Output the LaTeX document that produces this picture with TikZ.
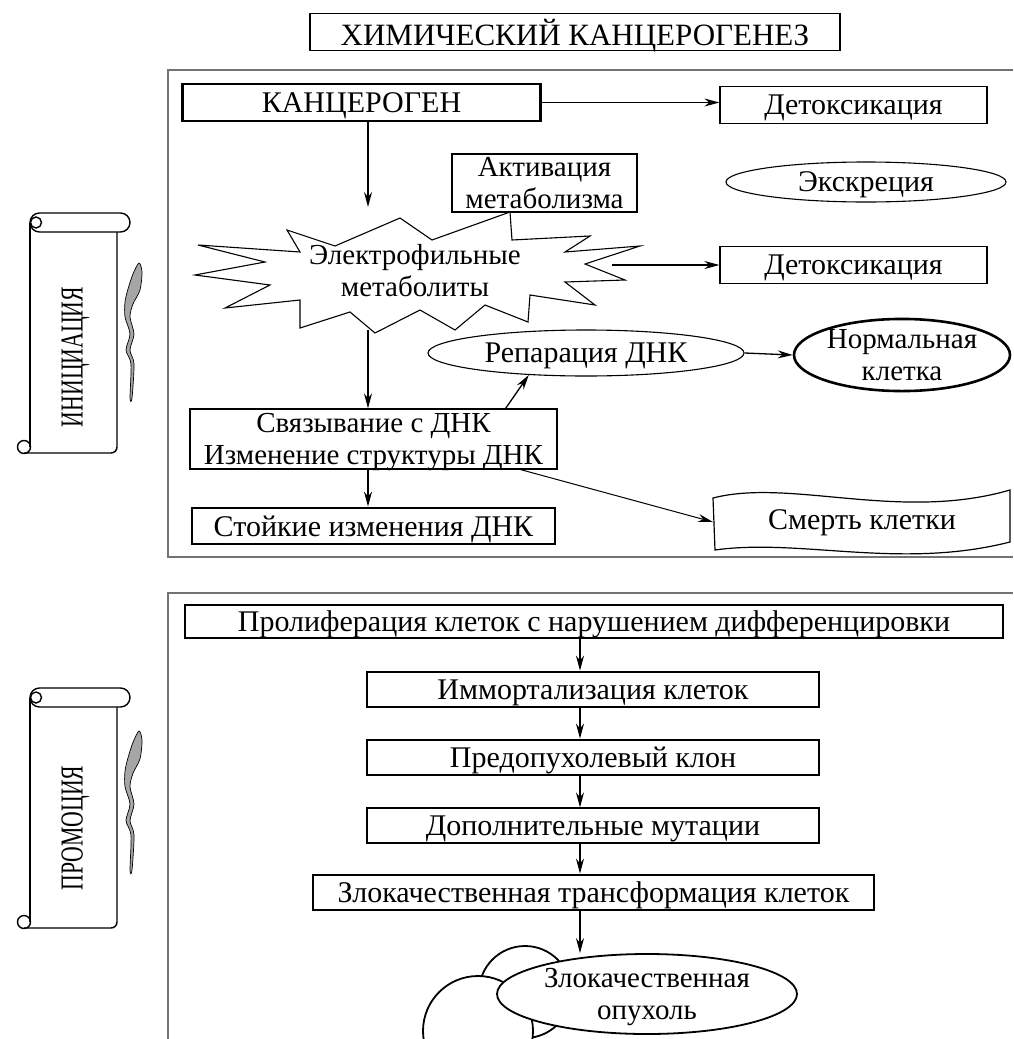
\documentclass[tikz,border=0pt]{standalone}
\usepackage{fontspec}
\setmainfont{Liberation Serif}
\usetikzlibrary{arrows.meta,shapes.geometric,calc}

\tikzset{
  every node/.style={font=\fontsize{30}{27}\selectfont, align=center, inner sep=0pt, text depth=0pt},
  twol/.style={font=\fontsize{29}{32}\selectfont},
  box/.style={draw, line width=1.2pt, rectangle},
  tbox/.style={draw, line width=2.8pt, rectangle},
  oval/.style={draw, ellipse, line width=1.1pt},
  frame/.style={draw=black!55, line width=2.4pt},
  arr/.style={-{Stealth[length=15pt,width=8pt]}, line width=1.3pt},
  scrl/.style={line width=1.4pt},
  stage/.style={rotate=90, font=\fontsize{32}{32}\selectfont},
  quill/.style={fill=black!35, line width=0.7pt},
}

\newcommand\myscroll[2]{%
  \draw[scrl, rounded corners=6] (117,{#1+19}) -- (117,#2) -- (24,#2);
  \draw[scrl] (30,{#1+10}) -- (30,{#2-6});
  \draw[scrl, rounded corners=9.5, fill=white] (30,#1) rectangle (130,{#1+19});
  \draw[scrl] (36,{#1+9.5}) circle (5.5);
  \draw[scrl] (24,{#2-6}) circle (6.5);
}
\newcommand\myfeather[3]{%
  \begin{scope}[shift={(#1,#2)}, yscale=#3]
    \draw[quill] plot[smooth cycle, tension=0.5] coordinates {(19,1) (22,10) (20,28) (13,42) (10,55)
      (14,72) (10,88) (14,102) (12,136) (10,136) (11,102) (6,88) (10,72) (5,55) (5,40) (8,27) (13,12)};
  \end{scope}
}

\begin{document}
\begin{tikzpicture}[x=1pt,y=-1pt]
\useasboundingbox (0,0) rectangle (1013,1039);

% title
\node[box, font=\fontsize{31}{31}\selectfont, minimum width=530, minimum height=37] (title) at (575,32) {ХИМИЧЕСКИЙ КАНЦЕРОГЕНЕЗ};

% frames
\draw[frame] (1013,70) -- (168,70) -- (168,557) -- (1013,557);
\draw[frame] (1013,593) -- (168,593) -- (168,1039);

% scrolls
\myscroll{213}{453}
\node[stage] (ini) at (72,357) {\scalebox{0.68}[1]{ИНИЦИАЦИЯ}};
\myfeather{120}{262}{1}
\myscroll{688}{928}
\node[stage] (pro) at (72,828) {\scalebox{0.68}[1]{ПРОМОЦИЯ}};
\myfeather{120}{730}{1.03}

% ---------- initiation ----------
\node[tbox, minimum width=358, minimum height=37] (kanc) at (361.5,102.5) {КАНЦЕРОГЕН};
\node[box, minimum width=267, minimum height=37] (det1) at (853.5,105) {Детоксикация};
\node[box, twol, minimum width=185, minimum height=58] (akt) at (544.5,183) {Активация\\метаболизма};
\node[oval, minimum width=280, minimum height=40] (exk) at (866,182) {Экскреция};

% starburst
\draw[line width=1.1pt, fill=white] (287,230) -- (335,246) -- (400,218) -- (432,240) -- (510,212)
  -- (512,240) -- (590,236) -- (565,252) -- (640,246) -- (585,264) -- (625,280) -- (565,282)
  -- (595,305) -- (530,295) -- (528,322) -- (485,305) -- (455,330) -- (420,310) -- (375,333)
  -- (350,312) -- (300,328) -- (300,300) -- (225,308) -- (270,285) -- (195,275) -- (265,262)
  -- (198,245) -- (300,252) -- cycle;
\node[twol] (star) at (415,270) {Электрофильные\\метаболиты};

\node[box, minimum width=267, minimum height=37] (det2) at (853.5,265) {Детоксикация};
\node[oval, minimum width=316, minimum height=46] (rep) at (586,353) {Репарация ДНК};
\node[oval, twol, line width=2.6pt, minimum width=216, minimum height=66] (norm) at (902,355) {Нормальная\\клетка};
\node[box, twol, minimum width=367, minimum height=60] (svyaz) at (373.5,439) {Связывание с ДНК\\Изменение структуры ДНК};
\node[tbox, minimum width=363, minimum height=36] (stoik) at (373.5,526) {Стойкие изменения ДНК};

% wavy box
\draw[line width=1.2pt] (713,498) .. controls (790,478) and (900,522) .. (1010,490) -- (1010,542)
  .. controls (900,570) and (800,538) .. (715,550) -- cycle;
\node (smert) at (862,520) {Смерть клетки};

\coordinate (starN) at (368,207);
\coordinate (starS) at (368,330);
\coordinate (starE) at (612,265);
\coordinate (smertW) at (713,522);

\draw[arr] (kanc.east) -- (kanc.east -| det1.west);
\draw[arr] (kanc.south -| starN) -- (starN);
\draw[arr] (starE) -- (det2.west |- starE);
\draw[arr] (starS) -- (svyaz.north -| starS);
\draw[arr] (svyaz.south -| starS) -- (stoik.north -| starS);
\draw[arr] ([xshift=-52pt]svyaz.north east) -- (rep.201);
\draw[arr] (rep.east) -- (norm.west);
\draw[arr, line width=1pt] ([xshift=-37pt]svyaz.south east) -- (smertW);

% ---------- promotion ----------
\node[box, minimum width=818, minimum height=33] (prol) at (594,621.5) {Пролиферация клеток с нарушением дифференцировки};
\node[tbox, minimum width=452, minimum height=35] (imm) at (593,689.5) {Иммортализация клеток};
\node[tbox, minimum width=452, minimum height=35] (pred) at (593,757.5) {Предопухолевый клон};
\node[box, minimum width=452, minimum height=35] (dop) at (593,825.5) {Дополнительные мутации};
\node[tbox, minimum width=561, minimum height=35] (zlo) at (593.5,892.5) {Злокачественная трансформация клеток};

\coordinate (ax) at (580,0);
\draw[line width=1.8pt, fill=white] (525,992) circle (46);
\draw[line width=1.8pt, fill=white] (478,1031) circle (55);
\node[ellipse, twol, draw, line width=1.8pt, fill=white, minimum width=300, minimum height=80] (tumor) at (647,994) {Злокачественная\\опухоль};

\draw[arr] (prol.south -| ax) -- (imm.north -| ax);
\draw[arr] (imm.south -| ax) -- (pred.north -| ax);
\draw[arr] (pred.south -| ax) -- (dop.north -| ax);
\draw[arr] (dop.south -| ax) -- (zlo.north -| ax);
\draw[arr] (zlo.south -| ax) -- (ax |- tumor.north);
\end{tikzpicture}
\end{document}
